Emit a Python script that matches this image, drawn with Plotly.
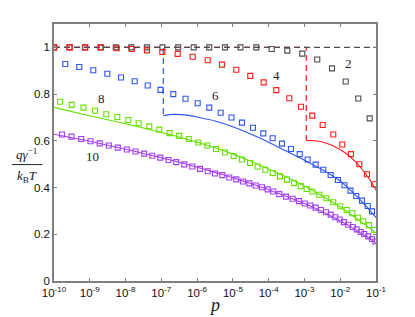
import numpy as np
import plotly.graph_objects as go

# ---------------- data (log10 p, value) ----------------
black_logp = [-10, -9.567, -9.134, -8.703, -8.273, -7.840, -7.404, -6.968, -6.529, -6.096,
              -5.660, -5.221, -4.788, -4.346, -3.916, -3.480, -3.061, -2.642, -2.230, -1.847,
              -1.495, -1.177]
black_val = [1, 1, 1, 1, 1, 1, 1, 1, 1, 1, 1, 1, 1, 1, 0.993, 0.986, 0.973, 0.948, 0.910, 0.854,
             0.781, 0.696]

red_logp = [-9.992, -9.561, -9.125, -8.686, -8.248, -7.828, -7.401, -6.973, -6.543, -6.124,
            -5.704, -5.305, -4.905, -4.514, -4.140, -3.787, -3.424, -3.097, -2.781, -2.491,
            -2.194, -1.943, -1.700, -1.468, -1.252, -1.056]
red_val = [1.0, 1.0, 1.0, 1.0, 0.996, 0.993, 0.987, 0.980, 0.972, 0.960,
           0.945, 0.926, 0.904, 0.878, 0.850, 0.817, 0.782, 0.746, 0.708, 0.668,
           0.627, 0.584, 0.543, 0.500, 0.457, 0.414]

blue_logp = [-9.684, -9.293, -8.902, -8.510, -8.127, -7.745, -7.381, -7.023, -6.666, -6.325,
             -5.984, -5.660, -5.341, -5.039, -4.746, -4.439, -4.151, -3.888, -3.628, -3.377,
             -3.133, -2.910, -2.687, -2.474, -2.268, -2.064, -1.881, -1.713, -1.551, -1.392,
             -1.233, -1.112]
blue_val = [0.929, 0.916, 0.902, 0.887, 0.871, 0.855, 0.837, 0.818, 0.800, 0.780,
            0.761, 0.742, 0.720, 0.700, 0.678, 0.656, 0.632, 0.611, 0.588, 0.565,
            0.543, 0.520, 0.498, 0.476, 0.454, 0.432, 0.410, 0.387, 0.364, 0.344,
            0.321, 0.298]

green_logp = [-9.832, -9.505, -9.176, -8.854, -8.538, -8.231, -7.923, -7.633, -7.337, -7.057,
              -6.772, -6.501, -6.233, -5.967, -5.715, -5.472, -5.221, -4.978, -4.746, -4.522,
              -4.307, -4.094, -3.888, -3.684, -3.488, -3.292, -3.105, -2.937, -2.775, -2.585,
              -2.389, -2.194, -1.998, -1.820, -1.663, -1.504, -1.356, -1.196, -1.048]
green_val = [0.767, 0.754, 0.742, 0.729, 0.714, 0.702, 0.689, 0.675, 0.662, 0.648,
             0.633, 0.621, 0.608, 0.593, 0.580, 0.565, 0.550, 0.535, 0.520, 0.505,
             0.490, 0.476, 0.462, 0.448, 0.434, 0.419, 0.406, 0.394, 0.383, 0.369,
             0.354, 0.337, 0.320, 0.304, 0.290, 0.271, 0.256, 0.239, 0.219]

purple_logp = [-9.776, -9.511, -9.240, -8.980, -8.723, -8.468, -8.217, -7.965, -7.722, -7.479,
               -7.253, -7.029, -6.800, -6.585, -6.358, -6.135, -5.920, -5.704, -5.500, -5.296,
               -5.101, -4.905, -4.718, -4.542, -4.364, -4.188, -4.028, -3.872, -3.703, -3.516,
               -3.329, -3.153, -2.993, -2.837, -2.686, -2.538, -2.398, -2.267, -2.138, -2.015,
               -1.895, -1.775, -1.652, -1.540, -1.428, -1.328, -1.216, -1.112, -1.020]
purple_val = [0.627, 0.618, 0.608, 0.598, 0.589, 0.580, 0.571, 0.563, 0.554, 0.545,
              0.536, 0.528, 0.518, 0.509, 0.499, 0.490, 0.480, 0.470, 0.460, 0.453,
              0.443, 0.435, 0.426, 0.418, 0.409, 0.401, 0.392, 0.383, 0.372, 0.361,
              0.352, 0.342, 0.332, 0.323, 0.314, 0.304, 0.294, 0.284, 0.273, 0.263,
              0.252, 0.241, 0.231, 0.221, 0.210, 0.201, 0.191, 0.180, 0.169]

# theory curves
red_line_logp = [-2.949, -2.705, -2.425, -2.146, -1.867, -1.588, -1.364, -1.168, -1.0]
red_line_val = [0.602, 0.600, 0.592, 0.575, 0.549, 0.513, 0.474, 0.432, 0.389]

blue_line_logp = [-6.945, -6.674, -6.339, -6.0, -5.5, -5.0, -4.522, -4.0, -3.496, -3.0,
                  -2.51, -2.0, -1.75, -1.5, -1.25, -1.0]
blue_line_val = [0.708, 0.713, 0.711, 0.702, 0.685, 0.660, 0.630, 0.594, 0.555, 0.517,
                 0.477, 0.428, 0.394, 0.357, 0.316, 0.271]

green_line_logp = [-10, -9.5, -9, -8.5, -8, -7.5, -7, -6.5, -6, -5.5, -5, -4.5, -4, -3.5,
                   -3, -2.5, -2, -1.75, -1.5, -1.25, -1]
green_line_val = [0.743, 0.725, 0.707, 0.690, 0.673, 0.655, 0.636, 0.616, 0.594, 0.570,
                  0.543, 0.513, 0.479, 0.445, 0.407, 0.364, 0.317, 0.291, 0.263, 0.235, 0.205]

purple_line_logp = [-10, -9.5, -9, -8.5, -8, -7.5, -7, -6.5, -6, -5.5, -5, -4.5, -4, -3.5,
                    -3, -2.5, -2, -1.75, -1.5, -1.25, -1]
purple_line_val = [0.628, 0.613, 0.598, 0.581, 0.564, 0.546, 0.528, 0.508, 0.487, 0.465,
                   0.442, 0.417, 0.391, 0.362, 0.332, 0.297, 0.257, 0.236, 0.212, 0.188, 0.162]

# dashed (step) curves: value 1 until the drop, then down to the curve start
black_dash_logp = [-10, -1]
black_dash_val = [1, 1]
red_dash_logp = [-10, -2.949, -2.949]
red_dash_val = [1, 1, 0.602]
blue_dash_logp = [-10, -6.945, -6.945]
blue_dash_val = [1, 1, 0.708]

curve_labels = ["2", "4", "6", "8", "10"]
label_logp = [-1.757, -3.779, -5.492, -8.667, -8.915]
label_val = [0.932, 0.878, 0.794, 0.780, 0.531]

x_tick_exp = [-10, -9, -8, -7, -6, -5, -4, -3, -2, -1]
y_ticks = [0, 0.2, 0.4, 0.6, 0.8, 1]
y_tick_text = ["0", "0.2", "0.4", "0.6", "0.8", "1"]

# ---------------- styling ----------------
C_BLACK = "#4d4d4d"
C_RED = "#ff1a1a"
C_BLUE = "#2f55f0"
C_GREEN = "#66e000"
C_PURPLE = "#a23ff0"


def p(vals):
    return 10.0 ** np.asarray(vals, dtype=float)


fig = go.Figure()

DASH = "6px,4px"
for lx, ly, c in [(blue_dash_logp, blue_dash_val, C_BLUE),
                  (red_dash_logp, red_dash_val, C_RED),
                  (black_dash_logp, black_dash_val, C_BLACK)]:
    fig.add_trace(go.Scatter(x=p(lx), y=ly, mode="lines",
                             line=dict(color=c, width=1.2, dash=DASH),
                             showlegend=False, hoverinfo="skip"))

for lx, ly, c in [(red_line_logp, red_line_val, C_RED),
                  (blue_line_logp, blue_line_val, C_BLUE),
                  (green_line_logp, green_line_val, C_GREEN),
                  (purple_line_logp, purple_line_val, C_PURPLE)]:
    fig.add_trace(go.Scatter(x=p(lx), y=ly, mode="lines",
                             line=dict(color=c, width=1.1, shape="spline", smoothing=0.6),
                             showlegend=False, hoverinfo="skip"))

for lx, ly, c in [(black_logp, black_val, C_BLACK),
                  (red_logp, red_val, C_RED),
                  (blue_logp, blue_val, C_BLUE),
                  (green_logp, green_val, C_GREEN),
                  (purple_logp, purple_val, C_PURPLE)]:
    fig.add_trace(go.Scatter(x=p(lx), y=ly, mode="markers",
                             marker=dict(symbol="square-open", size=5, color=c,
                                         line=dict(color=c, width=1.1)),
                             showlegend=False))

annotations = []
for t, lx, ly in zip(curve_labels, label_logp, label_val):
    annotations.append(dict(x=lx, y=ly, xref="x", yref="y", text=t, showarrow=False,
                            font=dict(family="Liberation Serif", size=13, color="#222222"),
                            xanchor="center", yanchor="middle"))

# axis titles (built as text)
annotations.append(dict(x=0.497, y=-0.092, xref="paper", yref="paper", text="<i>p</i>",
                        showarrow=False, xanchor="center", yanchor="middle",
                        font=dict(family="Liberation Serif", size=18, color="#222222")))
annotations.append(dict(x=-0.085, y=0.457, xref="paper", yref="paper",
                        text="<i>qγ</i><sup>−1</sup>", showarrow=False,
                        xanchor="center", yanchor="bottom",
                        font=dict(family="Liberation Serif", size=13, color="#222222")))
annotations.append(dict(x=-0.085, y=0.449, xref="paper", yref="paper",
                        text="<i>k</i><sub>B</sub><i>T</i>", showarrow=False,
                        xanchor="center", yanchor="top",
                        font=dict(family="Liberation Serif", size=13, color="#222222")))

shapes = [dict(type="line", xref="paper", yref="paper", x0=-0.130, x1=-0.036,
               y0=0.453, y1=0.453, line=dict(color="#222222", width=1))]

# the page places the figure 8px from the window's top-left corner
fig.update_layout(
    width=415, height=317,
    margin=dict(l=46, r=47, t=16, b=44, autoexpand=False),
    paper_bgcolor="white", plot_bgcolor="white",
    annotations=annotations, shapes=shapes,
    showlegend=False,
)
fig.update_xaxes(
    type="log", range=[-10, -1], automargin=False,
    tickvals=[10.0 ** e for e in x_tick_exp],
    ticktext=["10<sup>%d</sup>" % e for e in x_tick_exp],
    ticks="inside", ticklen=3, tickcolor="#7f7f7f",
    showline=True, linecolor="#7f7f7f", linewidth=1.5, mirror="ticks",
    showgrid=False, zeroline=False,
    tickfont=dict(family="Liberation Sans", size=11.5, color="#111111"),
)
fig.update_yaxes(
    range=[0, 1.1], automargin=False,
    tickvals=y_ticks, ticktext=y_tick_text,
    ticks="inside", ticklen=3, tickcolor="#7f7f7f",
    showline=True, linecolor="#7f7f7f", linewidth=1.5, mirror="ticks",
    showgrid=False, zeroline=False,
    tickfont=dict(family="Liberation Sans", size=11.5, color="#111111"),
)

fig.write_html("out.html")
